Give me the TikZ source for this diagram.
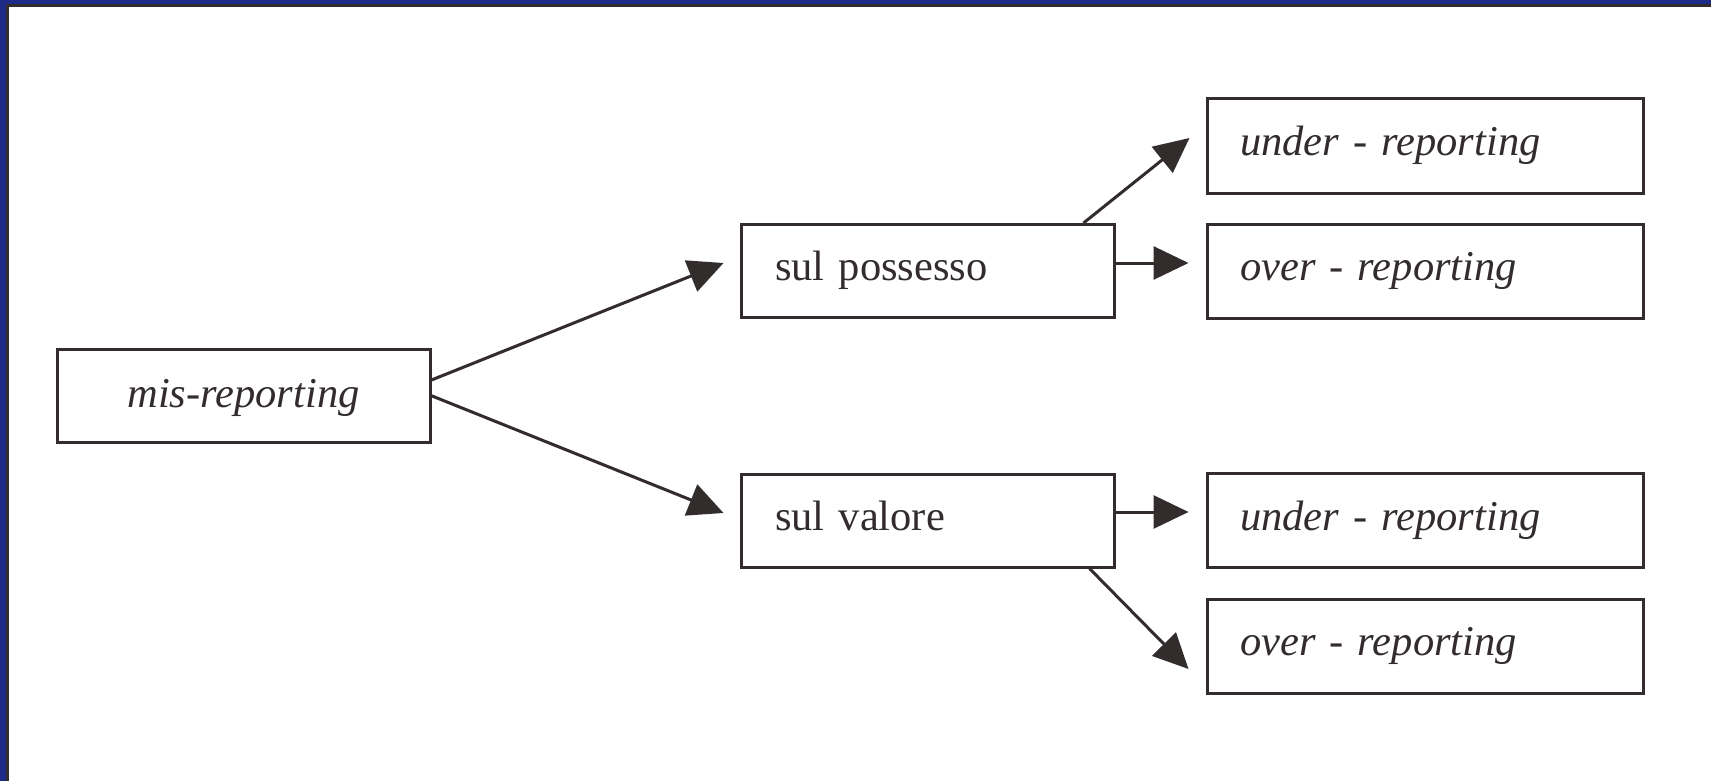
\documentclass[tikz,border=0pt]{standalone}
\usepackage{fontspec}
\setmainfont{Liberation Serif}
\usetikzlibrary{arrows.meta}
\definecolor{frameblue}{RGB}{29,43,134}
\definecolor{ink}{RGB}{50,44,45}
\begin{document}
\begin{tikzpicture}[x=1pt,y=-1pt,
  box/.style={draw=ink,line width=3pt,fill=white,text=ink,
    font=\fontsize{42.5}{50}\selectfont,inner ysep=0pt},
  rootbox/.style={box,minimum width=373pt,minimum height=93.5pt,
    text height=29pt,text depth=5pt,inner xsep=0pt},
  midbox/.style={box,text width=305pt,align=left,inner xsep=34pt,
    minimum height=93pt,text height=29pt,text depth=10pt},
  leafbox/.style={box,text width=370pt,align=left,inner xsep=33pt,
    minimum height=94pt,text height=29pt,text depth=10pt},
  link/.style={draw=ink,line width=3pt,
    -{Triangle[length=35pt,width=33pt,fill=ink]}}]
  % background frame
  \fill[frameblue] (0,0) rectangle (1711,781);
  \fill[ink] (6,4) rectangle (1711,781);
  \fill[white] (8.5,7) rectangle (1711,781);
  \useasboundingbox (0,0) rectangle (1711,781);
  % boxes
  \node[rootbox] (mis) at (243.5,395.75) {\itshape mis-reporting};
  \node[midbox] (sp) at (927.5,271) {sul possesso};
  \node[midbox] (sv) at (927.5,520.5) {sul valore};
  \node[leafbox] (u1) at (1425,146) {\itshape under - reporting};
  \node[leafbox] (o1) at (1425,271) {\itshape over - reporting};
  \node[leafbox] (u2) at (1425,520.5) {\itshape under - reporting};
  \node[leafbox] (o2) at (1425,646) {\itshape over - reporting};
  % connectors
  \draw[link] ([yshift=15.75pt]mis.east) -- ([xshift=-16pt,yshift=8pt]sp.west);
  \draw[link] (mis.east) -- ([xshift=-16pt,yshift=7.5pt]sv.west);
  \draw[link] ([xshift=-32pt]sp.north east) -- ([xshift=-16pt,yshift=8pt]u1.west);
  \draw[link] ([yshift=8pt]sp.east) -- ([xshift=-17pt,yshift=8pt]o1.west);
  \draw[link] ([yshift=8.5pt]sv.east) -- ([xshift=-17pt,yshift=8.5pt]u2.west);
  \draw[link] ([xshift=-26pt]sv.south east) -- ([xshift=-17pt,yshift=-23pt]o2.west);
\end{tikzpicture}
\end{document}
